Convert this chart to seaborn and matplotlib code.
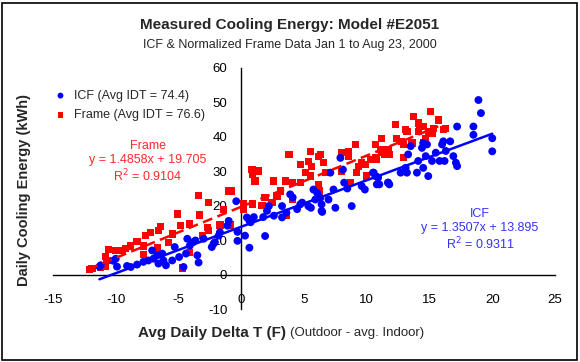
import numpy as np
import pandas as pd
import matplotlib
matplotlib.use("Agg")
import matplotlib.pyplot as plt
import seaborn as sns
from matplotlib.patches import Rectangle

# ICF points (delta T, kWh)
icf_x = [-11.3, -11.2, -10.2, -10.0, -9.9, -9.1, -8.8, -8.3, -7.8, -7.4, -7.1, -7.0,
         -6.7, -6.6, -6.3, -6.2, -6.0, -5.5, -5.3, -4.95, -4.6, -4.4, -4.3, -4.1,
         -3.85, -3.65, -3.5, -3.4, -3.0, -2.35, -2.2, -2.1, -1.8, -1.7, -1.1, -1.0,
         -0.4, -0.3, -0.3, 0.3, 0.45, 0.65, 0.65, 0.75, 1.0, 1.75, 1.9, 2.05, 2.2,
         2.6, 3.25, 3.25, 3.6, 3.9, 4.1, 4.45, 4.7, 4.85, 5.35, 5.55, 5.75, 5.9,
         6.05, 6.3, 6.4, 6.4, 6.45, 6.95, 7.1, 7.35, 7.5, 7.9, 8.1, 8.2, 8.45, 8.8,
         9.6, 9.85, 10.5, 10.55, 10.7, 10.9, 10.8, 10.9, 11.0, 11.7, 11.7, 11.8,
         12.7, 13.1, 13.2, 13.3, 13.5, 14.0, 14.1, 14.4, 14.5, 14.5, 14.7, 14.8,
         14.9, 15.2, 15.5, 15.8, 16.0, 16.1, 16.2, 16.3, 16.65, 16.9, 17.1, 17.2,
         17.2, 18.5, 18.5, 18.9, 19.1, 20.0, 20.0]
icf_y = [2.3, 2.7, 4.0, 4.6, 2.3, 2.5, 2.2, 2.9, 3.7, 4.1, 7.0, 4.6,
         5.6, 3.2, 6.1, 4.1, 2.7, 4.1, 8.0, 5.1, 2.2, 6.1, 10.4, 8.4,
         9.4, 9.9, 5.6, 3.5, 10.4, 8.0, 9.0, 9.4, 11.3, 12.3, 14.2, 15.6,
         21.3, 12.4, 9.8, 11.3, 16.6, 15.6, 7.8, 15.2, 16.7, 16.7, 11.2, 18.5, 19.9,
         17.1, 19.9, 16.6, 18.0, 23.3, 22.4, 19.0, 20.4, 20.9, 19.9, 19.4, 24.7, 21.8,
         23.7, 22.3, 20.4, 18.5, 18.2, 21.8, 29.6, 24.7, 19.4, 33.9, 30.5, 26.7, 25.0, 19.9,
         25.7, 24.7, 29.6, 29.6, 28.6, 28.2, 26.2, 28.2, 26.2, 26.7, 26.7, 26.2,
         29.6, 31.0, 29.6, 34.9, 37.3, 29.6, 33.0, 36.8, 38.2, 31.0, 34.4, 37.8,
         28.6, 33.0, 35.4, 33.0, 37.8, 38.7, 33.0, 35.9, 38.7, 34.4, 32.5, 31.5,
         43.0, 43.0, 40.6, 50.7, 46.9, 39.6, 35.8]

# Frame points (delta T, kWh)
frame_x = [-12.1, -11.9, -11.2, -10.8, -10.8, -10.7, -10.6, -10.0, -9.5, -9.2, -8.8,
           -8.3, -7.8, -7.8, -7.65, -7.25, -6.7, -6.6, -6.45, -5.8, -5.5, -5.1, -4.85,
           -4.7, -4.1, -4.1, -3.4, -3.3, -3.1, -2.7, -2.6, -2.6, -1.7, -1.4, -1.0,
           -0.9, -0.75, 0.2, 0.2, 0.85, 0.9, 0.9, 1.1, 1.4, 1.65, 1.9, 2.45, 2.55,
           2.85, 3.1, 3.5, 3.6, 3.8, 4.1, 4.1, 4.7, 4.7, 5.1, 5.35, 5.5, 5.5, 5.6,
           6.15, 6.15, 6.2, 6.3, 6.55, 6.7, 8.0, 8.0, 8.55, 8.55, 8.7, 9.1, 9.2,
           9.35, 9.6, 9.9, 10.0, 10.3, 10.7, 10.7, 10.8, 11.1, 11.2, 11.2, 11.4,
           11.5, 11.7, 11.8, 12.3, 12.4, 12.8, 12.9, 12.9, 13.1, 13.2, 13.6, 13.7,
           14.1, 14.1, 14.2, 14.5, 14.5, 14.7, 14.9, 15.1, 15.2, 15.3, 15.7, 16.1, 16.3]
frame_y = [1.5, 1.7, 2.1, 5.2, 2.3, 4.1, 7.3, 7.0, 7.0, 7.5, 8.3,
           9.6, 8.3, 5.8, 11.3, 12.3, 7.7, 12.8, 14.0, 9.4, 11.8, 17.6, 14.2,
           1.9, 14.7, 6.5, 23.0, 17.3, 11.3, 13.7, 20.9, 12.8, 14.4, 19.0, 24.3,
           14.4, 24.3, 19.0, 20.5, 30.5, 29.1, 20.5, 27.2, 30.1, 20.0, 22.4, 21.0, 27.2,
           22.8, 24.3, 27.2, 17.3, 34.9, 26.7, 21.9, 31.9, 26.7, 29.6, 32.9, 35.8, 28.6, 31.5,
           34.4, 26.2, 24.3, 34.9, 32.5, 29.6, 35.4, 30.1, 35.8, 34.4, 26.7, 37.7, 29.6,
           31.5, 32.5, 32.0, 28.6, 33.4, 37.8, 33.9, 33.4, 36.3, 39.5, 35.4, 34.9,
           35.4, 36.3, 34.9, 43.5, 39.5, 38.7, 37.8, 33.9, 42.1, 41.6, 38.2, 45.9,
           44.0, 41.6, 43.0, 43.0, 38.2, 39.6, 41.6, 47.4, 41.1, 42.5, 44.9, 42.1, 42.5]

# trendlines as printed on the chart: slope, intercept, x extent
icf_fit = (1.3507, 13.895)
frame_fit = (1.4858, 19.705)
icf_span = [-11.3, 20.0]
frame_span = [-12.2, 15.7]

x_ticks = [-15, -10, -5, 0, 5, 10, 15, 20, 25]
y_ticks = [-10, 0, 10, 20, 30, 40, 50, 60]

sns.set_style("white")
plt.rcParams["font.family"] = ["Liberation Sans", "DejaVu Sans"]
plt.rcParams["axes.unicode_minus"] = False

W, H = 580, 362
fig = plt.figure(figsize=(W / 100, H / 100), dpi=100)
ax = fig.add_axes([53 / W, 1 - 309 / H, 502 / W, 241 / H])

icf = pd.DataFrame({"x": icf_x, "y": icf_y})
frame = pd.DataFrame({"x": frame_x, "y": frame_y})

sns.scatterplot(data=frame, x="x", y="y", ax=ax, marker="s", s=27, color="#ff0000",
                edgecolor="none", label="Frame (Avg IDT = 76.6)", zorder=3)
sns.scatterplot(data=icf, x="x", y="y", ax=ax, marker="o", s=32, color="#0000ff",
                edgecolor="none", label="ICF (Avg IDT = 74.4)", zorder=4)

fx = np.array(frame_span)
ax.plot(fx, frame_fit[0] * fx + frame_fit[1], color="#ff0000", lw=1.8,
        dashes=(4, 2.2), zorder=5)
ix = np.array(icf_span)
ax.plot(ix, icf_fit[0] * ix + icf_fit[1], color="#0000ff", lw=1.8, zorder=5)

ax.set_xlim(-15, 25)
ax.set_ylim(-10, 60)
ax.set_xticks(x_ticks)
ax.set_yticks(y_ticks)
ax.set_xlabel("")
ax.set_ylabel("")

for s in ["top", "right"]:
    ax.spines[s].set_visible(False)
ax.spines["left"].set_position(("data", 0))
ax.spines["bottom"].set_position(("data", 0))
for s in ["left", "bottom"]:
    ax.spines[s].set_color("black")
    ax.spines[s].set_linewidth(1.0)
ax.tick_params(axis="both", direction="out", length=4, width=1, color="black",
               labelsize=9.5, labelcolor="black", pad=6)
ax.tick_params(axis="x", pad=10)

# legend, ICF first
h, l = ax.get_legend_handles_labels()
leg = ax.legend([h[1], h[0]], [l[1], l[0]], loc="upper left",
                bbox_to_anchor=(-0.02, 0.93), frameon=False, fontsize=9,
                handletextpad=0.1, markerscale=0.75, labelspacing=0.6,
                borderaxespad=0)

# trendline labels
red_txt = "#ff2a2a"
blue_txt = "#3333ff"
fig.text(148 / W, 1 - 146 / H, "Frame", color=red_txt, fontsize=9,
         ha="center", va="center")
fig.text(148 / W, 1 - 160 / H, "y = 1.4858x + 19.705", color=red_txt,
         fontsize=9, ha="center", va="center")
fig.text(148 / W, 1 - 176 / H, "R$^2$ = 0.9104", color=red_txt, fontsize=9,
         ha="center", va="center")
fig.text(480 / W, 1 - 214 / H, "ICF", color=blue_txt, fontsize=9,
         ha="center", va="center")
fig.text(480 / W, 1 - 228 / H, "y = 1.3507x + 13.895", color=blue_txt,
         fontsize=9, ha="center", va="center")
fig.text(480 / W, 1 - 244 / H, "R$^2$ = 0.9311", color=blue_txt, fontsize=9,
         ha="center", va="center")

fig.text(290 / W, 1 - 25 / H, "Measured Cooling Energy: Model #E2051",
         fontsize=11, fontweight="bold", ha="center", va="center")
fig.text(290 / W, 1 - 45 / H, "ICF & Normalized Frame Data Jan 1 to Aug 23, 2000",
         fontsize=9, ha="center", va="center")
fig.text(24 / W, 1 - 190 / H, "Daily Cooling Energy (kWh)", fontsize=10.5,
         fontweight="bold", rotation=90, ha="center", va="center")
fig.text(286 / W, 1 - 333 / H, "Avg Daily Delta T (F)", fontsize=11,
         fontweight="bold", ha="right", va="center")
fig.text(290 / W, 1 - 333 / H, "(Outdoor - avg. Indoor)", fontsize=9.5,
         ha="left", va="center")

fig.patches.append(Rectangle((2 / W, 2 / H), 575 / W, 357 / H, transform=fig.transFigure,
                             fill=False, edgecolor="black", lw=1.2))

fig.savefig("out.png", dpi=100)
